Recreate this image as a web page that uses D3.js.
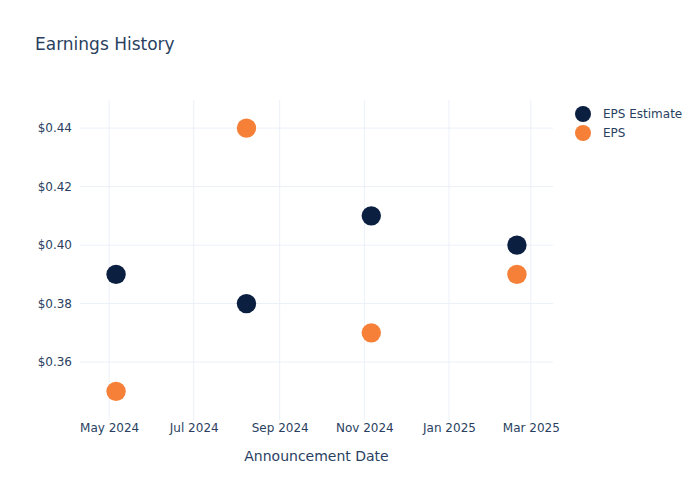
<!DOCTYPE html>
<html lang="en">
<head>
	<meta charset="utf-8">
	<script src="https://d3js.org/d3.v7.min.js"></script>
	<title>Earnings History</title>
	<style>
		body { margin: 0; background: #fff; }
		svg text { font-family: "DejaVu Sans", Verdana, sans-serif; fill: #2a3f5f; }
	</style>
</head>
<body>
	<script type="text/javascript">
		// Data
		var dates = ["2024-05-06", "2024-08-08", "2024-11-06", "2025-02-19"];
		var epsEstimate = [0.39, 0.38, 0.41, 0.40];
		var eps = [0.35, 0.44, 0.37, 0.39];
		var seriesNames = ["EPS Estimate", "EPS"];
		var seriesColors = ["#0b1f41", "#f68038"];
		var yTicks = [0.36, 0.38, 0.40, 0.42, 0.44];
		var xTicks = ["2024-05-01", "2024-07-01", "2024-09-01", "2024-11-01", "2025-01-01", "2025-03-01"];

		var width = 700;
		var height = 500;
		var margin = { top: 100, right: 147, bottom: 80, left: 80 };

		var parse = d3.timeParse("%Y-%m-%d");

		var svg = d3.select("body")
			.append("svg")
			.attr("width", width)
			.attr("height", height);

		// scales (padded like plotly autorange)
		var x = d3.scaleTime()
			.domain([parse("2024-04-10"), parse("2025-03-17")])
			.range([margin.left, width - margin.right]);

		var y = d3.scaleLinear()
			.domain([0.3402, 0.4496])
			.range([height - margin.bottom, margin.top]);

		// grid lines
		svg.append("g")
			.selectAll("line")
			.data(xTicks.map(parse))
			.enter()
			.append("line")
			.attr("x1", function(d) { return x(d); })
			.attr("x2", function(d) { return x(d); })
			.attr("y1", margin.top)
			.attr("y2", height - margin.bottom)
			.style("stroke", "#ebf0f8")
			.style("stroke-width", 1);

		svg.append("g")
			.selectAll("line")
			.data(yTicks)
			.enter()
			.append("line")
			.attr("x1", margin.left)
			.attr("x2", width - margin.right)
			.attr("y1", function(d) { return y(d); })
			.attr("y2", function(d) { return y(d); })
			.style("stroke", "#ebf0f8")
			.style("stroke-width", 1);

		// axes
		var xAxis = d3.axisBottom(x)
			.tickValues(xTicks.map(parse))
			.tickFormat(d3.timeFormat("%b %Y"))
			.tickSize(0)
			.tickPadding(3);

		svg.append("g")
			.attr("transform", "translate(0," + (height - margin.bottom) + ")")
			.call(xAxis)
			.call(function(g) { g.select(".domain").remove(); })
			.selectAll("text")
			.style("font-size", "12px")
			.style("fill", "#2a3f5f");

		var yAxis = d3.axisLeft(y)
			.tickValues(yTicks)
			.tickFormat(function(d) { return "$" + d.toFixed(2); })
			.tickSize(0)
			.tickPadding(8);

		svg.append("g")
			.attr("transform", "translate(" + margin.left + ",0)")
			.call(yAxis)
			.call(function(g) { g.select(".domain").remove(); })
			.selectAll("text")
			.style("font-size", "12px")
			.style("fill", "#2a3f5f");

		// title and axis title
		svg.append("text")
			.attr("x", 35)
			.attr("y", 50)
			.style("font-size", "17px")
			.text("Earnings History");

		svg.append("text")
			.attr("x", (margin.left + width - margin.right) / 2)
			.attr("y", 461)
			.attr("text-anchor", "middle")
			.style("font-size", "14px")
			.text("Announcement Date");

		// points
		var series = [epsEstimate, eps];
		series.forEach(function(values, s) {
			svg.append("g")
				.selectAll("circle")
				.data(values)
				.enter()
				.append("circle")
				.attr("cx", function(d, i) { return x(parse(dates[i])); })
				.attr("cy", function(d) { return y(d); })
				.attr("r", 9.7)
				.style("fill", seriesColors[s]);
		});

		// legend
		var legend = svg.append("g")
			.selectAll("g")
			.data(seriesNames)
			.enter()
			.append("g")
			.attr("transform", function(d, i) {
				return "translate(583," + (114 + i * 19) + ")";
			});

		legend.append("circle")
			.attr("r", 8)
			.style("fill", function(d, i) { return seriesColors[i]; });

		legend.append("text")
			.attr("x", 20)
			.attr("dy", "0.35em")
			.style("font-size", "12px")
			.text(function(d) { return d; });
	</script>
</body>
</html>
